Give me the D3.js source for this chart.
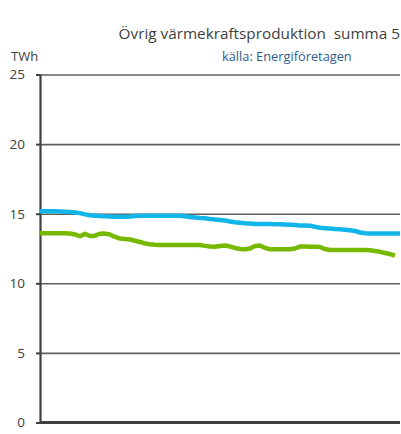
<!DOCTYPE html>
<html>
<head>
<meta charset="utf-8">
<script src="https://cdn.jsdelivr.net/npm/d3@7"></script>
<style>
  body { margin: 0; background: #fff; }
  text { font-family: "Open Sans", "Noto Sans", sans-serif; }
</style>
</head>
<body>
<div id="chart"></div>
<script>
// Övrig värmekraftsproduktion - two series, no x labels

// Data
const yTicks = [0, 5, 10, 15, 20, 25];

const blueValues = [
  15.17, 15.17, 15.17, 15.17, 15.16, 15.14, 15.12, 15.09, 15.04, 14.95,
  14.89, 14.86, 14.83, 14.81, 14.80, 14.78, 14.78, 14.78, 14.80, 14.83,
  14.86, 14.86, 14.86, 14.86, 14.86, 14.86, 14.86, 14.86, 14.86, 14.81,
  14.76, 14.73, 14.69, 14.67, 14.62, 14.58, 14.55, 14.51, 14.44, 14.38,
  14.35, 14.31, 14.29, 14.26, 14.26, 14.26, 14.26, 14.25, 14.25, 14.23,
  14.21, 14.19, 14.15, 14.15, 14.14, 14.06, 13.99, 13.96, 13.93, 13.90,
  13.88, 13.85, 13.81, 13.76, 13.65, 13.59, 13.58, 13.58, 13.58, 13.58,
  13.58, 13.58, 13.58
];

const greenValues = [
  13.59, 13.59, 13.59, 13.59, 13.59, 13.59, 13.58, 13.51, 13.38, 13.55,
  13.40, 13.42, 13.56, 13.57, 13.51, 13.33, 13.22, 13.18, 13.15, 13.06,
  12.97, 12.86, 12.80, 12.77, 12.75, 12.75, 12.75, 12.75, 12.75, 12.75,
  12.75, 12.75, 12.75, 12.69, 12.64, 12.63, 12.68, 12.72, 12.64, 12.54,
  12.46, 12.44, 12.50, 12.68, 12.72, 12.54, 12.44, 12.44, 12.44, 12.44,
  12.44, 12.50, 12.64, 12.64, 12.63, 12.63, 12.61, 12.46, 12.39, 12.39,
  12.39, 12.39, 12.39, 12.39, 12.39, 12.39, 12.37, 12.32, 12.26, 12.18,
  12.10, 12.00
];

// SVG dimensions
const width = 401;
const height = 434;
const margin = { top: 74.5, right: 1, bottom: 11.5, left: 40 };

const svg = d3.select("#chart")
  .append("svg")
  .attr("width", width)
  .attr("height", height);

const chartWidth = width - margin.left - margin.right;
const chartHeight = height - margin.top - margin.bottom;

const chart = svg.append("g")
  .attr("transform", `translate(${margin.left}, ${margin.top})`);

// Scales
const xScale = d3.scaleLinear()
  .domain([0, blueValues.length - 1])
  .range([0, chartWidth]);

const yScale = d3.scaleLinear()
  .domain([0, 25])
  .range([chartHeight, 0]);

// Grid lines
const grid = chart.append("g")
  .call(d3.axisLeft(yScale).tickValues(yTicks.filter(d => d > 0)).tickSize(-chartWidth).tickFormat(""));
grid.select(".domain").remove();
grid.selectAll(".tick line")
  .attr("stroke", "#5f5f5f")
  .attr("stroke-width", 1.6);

// Y axis
const yAxis = chart.append("g")
  .call(d3.axisLeft(yScale).tickValues(yTicks).tickSize(4).tickPadding(11));
yAxis.select(".domain")
  .attr("d", `M0.5,0V${chartHeight}`)
  .attr("stroke", "#404040")
  .attr("stroke-width", 2.2);
yAxis.selectAll(".tick line")
  .attr("stroke", "#404040")
  .attr("stroke-width", 2);
yAxis.selectAll(".tick text")
  .attr("fill", "#404040")
  .style("font-size", "13.5px");

// Baseline
chart.append("line")
  .attr("x1", 0)
  .attr("x2", chartWidth)
  .attr("y1", yScale(0))
  .attr("y2", yScale(0))
  .attr("stroke", "#404040")
  .attr("stroke-width", 2.8);

// Lines
const line = d3.line()
  .x((d, i) => xScale(i))
  .y(d => yScale(d));

chart.append("path")
  .datum(greenValues)
  .attr("fill", "none")
  .attr("stroke", "#77b900")
  .attr("stroke-width", 4.5)
  .attr("stroke-linejoin", "round")
  .attr("d", line);

chart.append("path")
  .datum(blueValues)
  .attr("fill", "none")
  .attr("stroke", "#11b5e8")
  .attr("stroke-width", 4.5)
  .attr("stroke-linejoin", "round")
  .attr("d", line);

// Titles
svg.append("text")
  .attr("x", 400)
  .attr("y", 39)
  .attr("text-anchor", "end")
  .attr("fill", "#404040")
  .style("font-size", "15.3px")
  .style("white-space", "pre")
  .text("Övrig värmekraftsproduktion  summa 5");

svg.append("text")
  .attr("x", 222)
  .attr("y", 61)
  .attr("fill", "#2f5c8f")
  .style("font-size", "12.8px")
  .text("källa: Energiföretagen");

// Unit label
svg.append("text")
  .attr("x", 11)
  .attr("y", 61)
  .attr("fill", "#404040")
  .style("font-size", "13px")
  .text("TWh");
</script>
</body>
</html>
